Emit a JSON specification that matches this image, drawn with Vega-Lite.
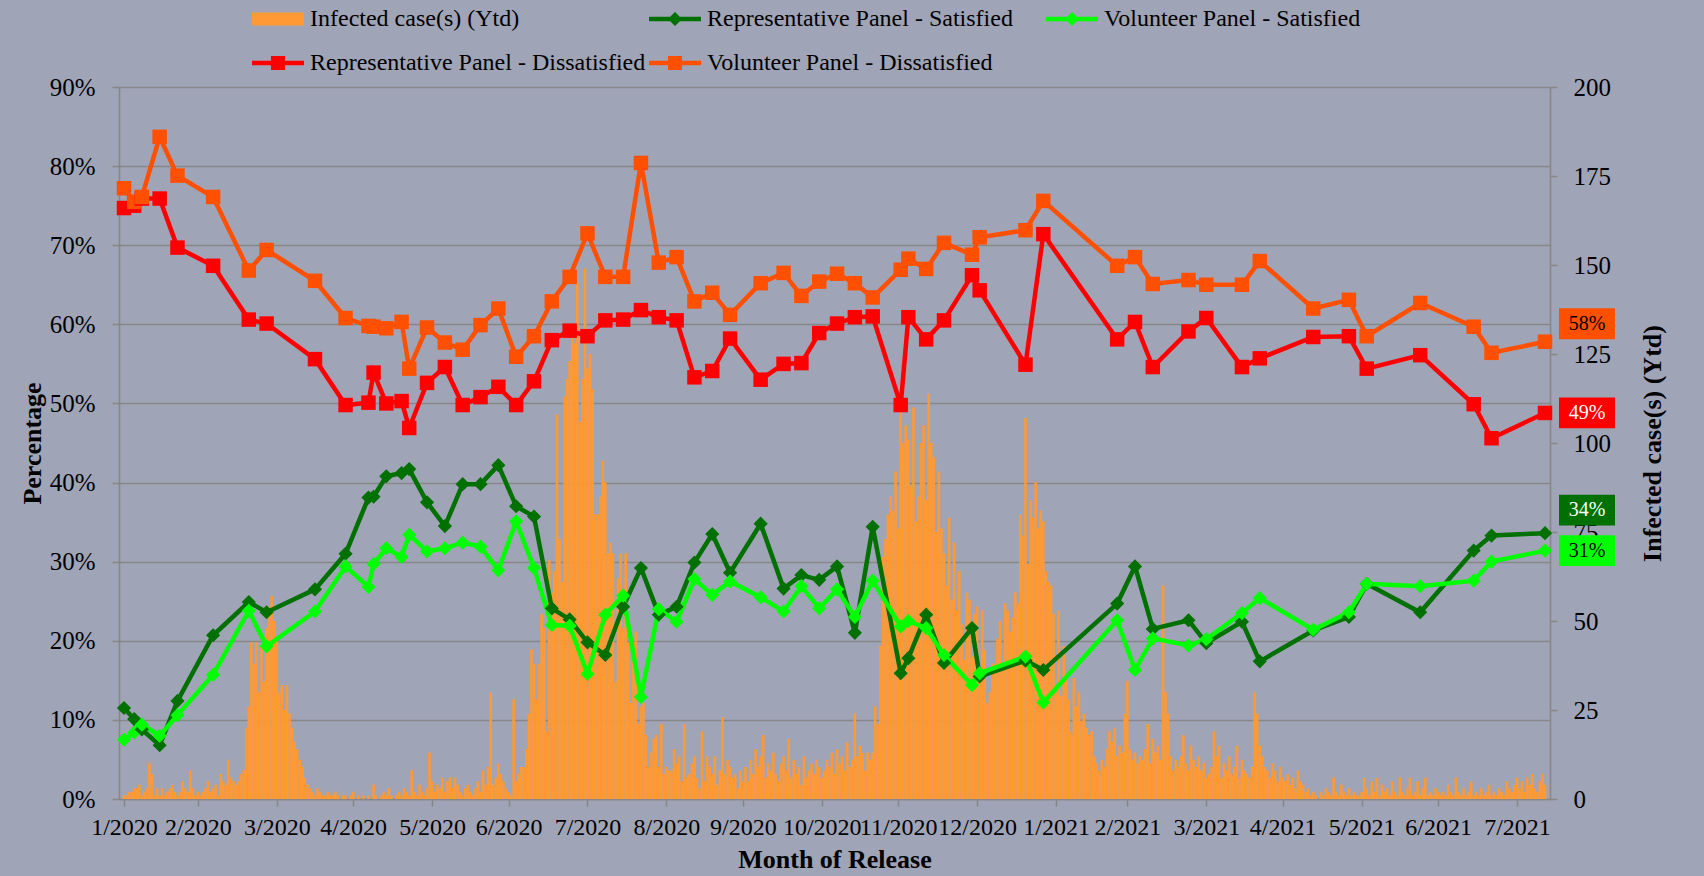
{
"$schema":"https://vega.github.io/schema/vega-lite/v6.json",
"width":1431,"height":712,
"autosize":{"type":"none"},
"padding":{"left":119,"top":87,"right":154,"bottom":77},
"background":"#A0A4B7",
"config":{"view":{"stroke":null},"font":"Liberation Serif",
"axis":{"labelFont":"Liberation Serif","titleFont":"Liberation Serif","labelColor":"black","titleColor":"black","domainColor":"#878787","tickColor":"#878787","gridColor":"#878787","domainWidth":1.6,"tickWidth":1.6,"gridWidth":1.6,"tickSize":7,"titleFontWeight":"bold","titleFontSize":26,"labelFontSize":25}},
"datasets":{
"survey":[
{"t":"2020-01-31","RS":0.115,"VS":0.075,"RD":0.747,"VD":0.772},
{"t":"2020-02-04","RS":0.101,"VS":0.084,"RD":0.750,"VD":0.755},
{"t":"2020-02-07","RS":0.088,"VS":0.094,"RD":0.759,"VD":0.761},
{"t":"2020-02-14","RS":0.068,"VS":0.080,"RD":0.759,"VD":0.837},
{"t":"2020-02-21","RS":0.124,"VS":0.106,"RD":0.697,"VD":0.788},
{"t":"2020-03-06","RS":0.207,"VS":0.157,"RD":0.674,"VD":0.761},
{"t":"2020-03-20","RS":0.249,"VS":0.238,"RD":0.606,"VD":0.668},
{"t":"2020-03-27","RS":0.236,"VS":0.193,"RD":0.601,"VD":0.694},
{"t":"2020-04-15","RS":0.265,"VS":0.237,"RD":0.556,"VD":0.655},
{"t":"2020-04-27","RS":0.310,"VS":0.294,"RD":0.498,"VD":0.608},
{"t":"2020-05-06","RS":0.381,"VS":0.268,"RD":0.501,"VD":0.598},
{"t":"2020-05-08","RS":0.382,"VS":0.297,"RD":0.539,"VD":0.597},
{"t":"2020-05-13","RS":0.408,"VS":0.317,"RD":0.500,"VD":0.595},
{"t":"2020-05-19","RS":0.412,"VS":0.306,"RD":0.503,"VD":0.603},
{"t":"2020-05-22","RS":0.417,"VS":0.334,"RD":0.469,"VD":0.544},
{"t":"2020-05-29","RS":0.375,"VS":0.313,"RD":0.526,"VD":0.596},
{"t":"2020-06-05","RS":0.345,"VS":0.317,"RD":0.546,"VD":0.577},
{"t":"2020-06-12","RS":0.398,"VS":0.324,"RD":0.498,"VD":0.568},
{"t":"2020-06-19","RS":0.398,"VS":0.319,"RD":0.508,"VD":0.599},
{"t":"2020-06-26","RS":0.422,"VS":0.289,"RD":0.521,"VD":0.620},
{"t":"2020-07-03","RS":0.370,"VS":0.351,"RD":0.498,"VD":0.559},
{"t":"2020-07-10","RS":0.357,"VS":0.292,"RD":0.528,"VD":0.585},
{"t":"2020-07-17","RS":0.241,"VS":0.220,"RD":0.580,"VD":0.629},
{"t":"2020-07-24","RS":0.227,"VS":0.219,"RD":0.592,"VD":0.660},
{"t":"2020-07-31","RS":0.198,"VS":0.158,"RD":0.585,"VD":0.715},
{"t":"2020-08-07","RS":0.182,"VS":0.233,"RD":0.605,"VD":0.660},
{"t":"2020-08-14","RS":0.243,"VS":0.257,"RD":0.606,"VD":0.660},
{"t":"2020-08-21","RS":0.292,"VS":0.129,"RD":0.618,"VD":0.804},
{"t":"2020-08-28","RS":0.233,"VS":0.240,"RD":0.609,"VD":0.678},
{"t":"2020-09-04","RS":0.243,"VS":0.224,"RD":0.605,"VD":0.685},
{"t":"2020-09-11","RS":0.299,"VS":0.278,"RD":0.533,"VD":0.629},
{"t":"2020-09-18","RS":0.335,"VS":0.258,"RD":0.541,"VD":0.640},
{"t":"2020-09-25","RS":0.286,"VS":0.275,"RD":0.582,"VD":0.612},
{"t":"2020-10-07","RS":0.348,"VS":0.255,"RD":0.530,"VD":0.652},
{"t":"2020-10-16","RS":0.266,"VS":0.237,"RD":0.550,"VD":0.665},
{"t":"2020-10-23","RS":0.283,"VS":0.269,"RD":0.551,"VD":0.636},
{"t":"2020-10-30","RS":0.277,"VS":0.241,"RD":0.589,"VD":0.654},
{"t":"2020-11-06","RS":0.294,"VS":0.265,"RD":0.601,"VD":0.664},
{"t":"2020-11-13","RS":0.210,"VS":0.230,"RD":0.609,"VD":0.652},
{"t":"2020-11-20","RS":0.344,"VS":0.276,"RD":0.610,"VD":0.634},
{"t":"2020-12-01","RS":0.159,"VS":0.218,"RD":0.498,"VD":0.669},
{"t":"2020-12-04","RS":0.178,"VS":0.225,"RD":0.609,"VD":0.683},
{"t":"2020-12-11","RS":0.233,"VS":0.216,"RD":0.581,"VD":0.670},
{"t":"2020-12-18","RS":0.172,"VS":0.182,"RD":0.605,"VD":0.703},
{"t":"2020-12-29","RS":0.216,"VS":0.144,"RD":0.662,"VD":0.688},
{"t":"2021-01-01","RS":0.155,"VS":0.159,"RD":0.643,"VD":0.710},
{"t":"2021-01-19","RS":0.175,"VS":0.180,"RD":0.549,"VD":0.719},
{"t":"2021-01-26","RS":0.163,"VS":0.122,"RD":0.714,"VD":0.756},
{"t":"2021-02-24","RS":0.247,"VS":0.226,"RD":0.581,"VD":0.674},
{"t":"2021-03-03","RS":0.294,"VS":0.163,"RD":0.603,"VD":0.685},
{"t":"2021-03-10","RS":0.215,"VS":0.203,"RD":0.546,"VD":0.651},
{"t":"2021-03-24","RS":0.226,"VS":0.194,"RD":0.591,"VD":0.656},
{"t":"2021-03-31","RS":0.197,"VS":0.202,"RD":0.608,"VD":0.650},
{"t":"2021-04-14","RS":0.224,"VS":0.235,"RD":0.546,"VD":0.650},
{"t":"2021-04-21","RS":0.174,"VS":0.254,"RD":0.557,"VD":0.680},
{"t":"2021-05-12","RS":0.213,"VS":0.214,"RD":0.584,"VD":0.620},
{"t":"2021-05-26","RS":0.230,"VS":0.236,"RD":0.585,"VD":0.631},
{"t":"2021-06-02","RS":0.272,"VS":0.272,"RD":0.544,"VD":0.585},
{"t":"2021-06-23","RS":0.236,"VS":0.269,"RD":0.561,"VD":0.627},
{"t":"2021-07-14","RS":0.314,"VS":0.276,"RD":0.499,"VD":0.597},
{"t":"2021-07-21","RS":0.333,"VS":0.300,"RD":0.456,"VD":0.564},
{"t":"2021-08-11","RS":0.336,"VS":0.314,"RD":0.488,"VD":0.578}
],
"cases":[
{"t":"2020-01-31","v":1},
{"t":"2020-02-01","v":1},{"t":"2020-02-02","v":2},{"t":"2020-02-03","v":2},{"t":"2020-02-04","v":3},{"t":"2020-02-05","v":3},{"t":"2020-02-06","v":4},{"t":"2020-02-07","v":1},{"t":"2020-02-08","v":2},{"t":"2020-02-09","v":3},{"t":"2020-02-10","v":10},{"t":"2020-02-11","v":7},{"t":"2020-02-12","v":1},{"t":"2020-02-13","v":3},{"t":"2020-02-14","v":1},{"t":"2020-02-15","v":3},{"t":"2020-02-16","v":1},{"t":"2020-02-17","v":2},{"t":"2020-02-18","v":3},{"t":"2020-02-19","v":4},{"t":"2020-02-20","v":2},{"t":"2020-02-21","v":1},{"t":"2020-02-22","v":2},{"t":"2020-02-23","v":5},{"t":"2020-02-24","v":3},{"t":"2020-02-25","v":2},{"t":"2020-02-26","v":8},{"t":"2020-02-27","v":3},{"t":"2020-02-28","v":1},{"t":"2020-02-29","v":2},
{"t":"2020-03-01","v":1},{"t":"2020-03-02","v":2},{"t":"2020-03-03","v":3},{"t":"2020-03-04","v":5},{"t":"2020-03-05","v":2},{"t":"2020-03-06","v":3},{"t":"2020-03-07","v":4},{"t":"2020-03-08","v":1},{"t":"2020-03-09","v":7},{"t":"2020-03-10","v":5},{"t":"2020-03-11","v":4},{"t":"2020-03-12","v":11},{"t":"2020-03-13","v":6},{"t":"2020-03-14","v":5},{"t":"2020-03-15","v":4},{"t":"2020-03-16","v":5},{"t":"2020-03-17","v":7},{"t":"2020-03-18","v":8},{"t":"2020-03-19","v":20},{"t":"2020-03-20","v":26},{"t":"2020-03-21","v":44},{"t":"2020-03-22","v":38},{"t":"2020-03-23","v":44},{"t":"2020-03-24","v":30},{"t":"2020-03-25","v":43},{"t":"2020-03-26","v":33},{"t":"2020-03-27","v":48},{"t":"2020-03-28","v":54},{"t":"2020-03-29","v":57},{"t":"2020-03-30","v":50},{"t":"2020-03-31","v":45},
{"t":"2020-04-01","v":30},{"t":"2020-04-02","v":32},{"t":"2020-04-03","v":25},{"t":"2020-04-04","v":32},{"t":"2020-04-05","v":24},{"t":"2020-04-06","v":20},{"t":"2020-04-07","v":16},{"t":"2020-04-08","v":14},{"t":"2020-04-09","v":11},{"t":"2020-04-10","v":9},{"t":"2020-04-11","v":6},{"t":"2020-04-12","v":4},{"t":"2020-04-13","v":3},{"t":"2020-04-14","v":2},{"t":"2020-04-15","v":1},{"t":"2020-04-16","v":3},{"t":"2020-04-17","v":2},{"t":"2020-04-18","v":1},{"t":"2020-04-19","v":1},{"t":"2020-04-20","v":2},{"t":"2020-04-21","v":1},{"t":"2020-04-22","v":1},{"t":"2020-04-23","v":2},{"t":"2020-04-24","v":1},{"t":"2020-04-26","v":1},{"t":"2020-04-27","v":1},{"t":"2020-04-29","v":1},{"t":"2020-04-30","v":2},
{"t":"2020-05-02","v":1},{"t":"2020-05-04","v":1},{"t":"2020-05-06","v":1},{"t":"2020-05-08","v":4},{"t":"2020-05-09","v":1},{"t":"2020-05-11","v":1},{"t":"2020-05-12","v":2},{"t":"2020-05-13","v":1},{"t":"2020-05-14","v":3},{"t":"2020-05-15","v":1},{"t":"2020-05-17","v":1},{"t":"2020-05-18","v":2},{"t":"2020-05-19","v":1},{"t":"2020-05-20","v":3},{"t":"2020-05-21","v":2},{"t":"2020-05-22","v":1},{"t":"2020-05-23","v":8},{"t":"2020-05-24","v":2},{"t":"2020-05-25","v":1},{"t":"2020-05-26","v":4},{"t":"2020-05-27","v":2},{"t":"2020-05-28","v":1},{"t":"2020-05-29","v":3},{"t":"2020-05-30","v":13},{"t":"2020-05-31","v":5},
{"t":"2020-06-01","v":2},{"t":"2020-06-02","v":4},{"t":"2020-06-03","v":3},{"t":"2020-06-04","v":6},{"t":"2020-06-05","v":2},{"t":"2020-06-06","v":5},{"t":"2020-06-07","v":6},{"t":"2020-06-08","v":3},{"t":"2020-06-09","v":6},{"t":"2020-06-10","v":4},{"t":"2020-06-11","v":2},{"t":"2020-06-12","v":1},{"t":"2020-06-13","v":3},{"t":"2020-06-14","v":4},{"t":"2020-06-15","v":2},{"t":"2020-06-16","v":1},{"t":"2020-06-17","v":3},{"t":"2020-06-18","v":5},{"t":"2020-06-19","v":2},{"t":"2020-06-20","v":8},{"t":"2020-06-21","v":4},{"t":"2020-06-22","v":9},{"t":"2020-06-23","v":30},{"t":"2020-06-24","v":4},{"t":"2020-06-25","v":6},{"t":"2020-06-26","v":10},{"t":"2020-06-27","v":7},{"t":"2020-06-28","v":5},{"t":"2020-06-29","v":3},{"t":"2020-06-30","v":2},
{"t":"2020-07-01","v":1},{"t":"2020-07-02","v":28},{"t":"2020-07-03","v":5},{"t":"2020-07-04","v":7},{"t":"2020-07-05","v":9},{"t":"2020-07-06","v":9},{"t":"2020-07-07","v":14},{"t":"2020-07-08","v":24},{"t":"2020-07-09","v":42},{"t":"2020-07-10","v":38},{"t":"2020-07-11","v":28},{"t":"2020-07-12","v":38},{"t":"2020-07-13","v":52},{"t":"2020-07-14","v":48},{"t":"2020-07-15","v":19},{"t":"2020-07-16","v":67},{"t":"2020-07-17","v":58},{"t":"2020-07-18","v":64},{"t":"2020-07-19","v":108},{"t":"2020-07-20","v":73},{"t":"2020-07-21","v":61},{"t":"2020-07-22","v":113},{"t":"2020-07-23","v":118},{"t":"2020-07-24","v":123},{"t":"2020-07-25","v":133},{"t":"2020-07-26","v":128},{"t":"2020-07-27","v":145},{"t":"2020-07-28","v":106},{"t":"2020-07-29","v":118},{"t":"2020-07-30","v":149},{"t":"2020-07-31","v":121},
{"t":"2020-08-01","v":125},{"t":"2020-08-02","v":115},{"t":"2020-08-03","v":80},{"t":"2020-08-04","v":80},{"t":"2020-08-05","v":85},{"t":"2020-08-06","v":95},{"t":"2020-08-07","v":89},{"t":"2020-08-08","v":69},{"t":"2020-08-09","v":72},{"t":"2020-08-10","v":69},{"t":"2020-08-11","v":33},{"t":"2020-08-12","v":62},{"t":"2020-08-13","v":69},{"t":"2020-08-14","v":48},{"t":"2020-08-15","v":69},{"t":"2020-08-16","v":44},{"t":"2020-08-17","v":27},{"t":"2020-08-18","v":44},{"t":"2020-08-19","v":47},{"t":"2020-08-20","v":21},{"t":"2020-08-21","v":26},{"t":"2020-08-22","v":27},{"t":"2020-08-23","v":18},{"t":"2020-08-24","v":9},{"t":"2020-08-25","v":13},{"t":"2020-08-26","v":17},{"t":"2020-08-27","v":18},{"t":"2020-08-28","v":9},{"t":"2020-08-29","v":21},{"t":"2020-08-30","v":7},{"t":"2020-08-31","v":9},
{"t":"2020-09-01","v":8},{"t":"2020-09-02","v":8},{"t":"2020-09-03","v":14},{"t":"2020-09-04","v":10},{"t":"2020-09-05","v":12},{"t":"2020-09-06","v":5},{"t":"2020-09-07","v":21},{"t":"2020-09-08","v":6},{"t":"2020-09-09","v":7},{"t":"2020-09-10","v":10},{"t":"2020-09-11","v":12},{"t":"2020-09-12","v":6},{"t":"2020-09-13","v":3},{"t":"2020-09-14","v":19},{"t":"2020-09-15","v":5},{"t":"2020-09-16","v":12},{"t":"2020-09-17","v":9},{"t":"2020-09-18","v":7},{"t":"2020-09-19","v":12},{"t":"2020-09-20","v":4},{"t":"2020-09-21","v":8},{"t":"2020-09-22","v":23},{"t":"2020-09-23","v":7},{"t":"2020-09-24","v":11},{"t":"2020-09-25","v":9},{"t":"2020-09-26","v":6},{"t":"2020-09-27","v":7},{"t":"2020-09-28","v":3},{"t":"2020-09-29","v":8},{"t":"2020-09-30","v":5},
{"t":"2020-10-01","v":9},{"t":"2020-10-02","v":5},{"t":"2020-10-03","v":11},{"t":"2020-10-04","v":7},{"t":"2020-10-05","v":14},{"t":"2020-10-06","v":9},{"t":"2020-10-07","v":12},{"t":"2020-10-08","v":18},{"t":"2020-10-09","v":6},{"t":"2020-10-10","v":10},{"t":"2020-10-11","v":8},{"t":"2020-10-12","v":13},{"t":"2020-10-13","v":7},{"t":"2020-10-14","v":5},{"t":"2020-10-15","v":10},{"t":"2020-10-16","v":12},{"t":"2020-10-17","v":8},{"t":"2020-10-18","v":17},{"t":"2020-10-19","v":6},{"t":"2020-10-20","v":11},{"t":"2020-10-21","v":7},{"t":"2020-10-22","v":9},{"t":"2020-10-23","v":4},{"t":"2020-10-24","v":12},{"t":"2020-10-25","v":6},{"t":"2020-10-26","v":8},{"t":"2020-10-27","v":10},{"t":"2020-10-28","v":7},{"t":"2020-10-29","v":11},{"t":"2020-10-30","v":9},{"t":"2020-10-31","v":6},
{"t":"2020-11-01","v":8},{"t":"2020-11-02","v":11},{"t":"2020-11-03","v":9},{"t":"2020-11-04","v":13},{"t":"2020-11-05","v":7},{"t":"2020-11-06","v":14},{"t":"2020-11-07","v":10},{"t":"2020-11-08","v":12},{"t":"2020-11-09","v":8},{"t":"2020-11-10","v":16},{"t":"2020-11-11","v":9},{"t":"2020-11-12","v":11},{"t":"2020-11-13","v":24},{"t":"2020-11-14","v":12},{"t":"2020-11-15","v":15},{"t":"2020-11-16","v":13},{"t":"2020-11-17","v":8},{"t":"2020-11-18","v":13},{"t":"2020-11-19","v":11},{"t":"2020-11-20","v":13},{"t":"2020-11-21","v":26},{"t":"2020-11-22","v":21},{"t":"2020-11-23","v":43},{"t":"2020-11-24","v":68},{"t":"2020-11-25","v":73},{"t":"2020-11-26","v":80},{"t":"2020-11-27","v":85},{"t":"2020-11-28","v":81},{"t":"2020-11-29","v":92},{"t":"2020-11-30","v":76},
{"t":"2020-12-01","v":112},{"t":"2020-12-02","v":100},{"t":"2020-12-03","v":105},{"t":"2020-12-04","v":101},{"t":"2020-12-05","v":88},{"t":"2020-12-06","v":110},{"t":"2020-12-07","v":78},{"t":"2020-12-08","v":85},{"t":"2020-12-09","v":100},{"t":"2020-12-10","v":105},{"t":"2020-12-11","v":84},{"t":"2020-12-12","v":114},{"t":"2020-12-13","v":100},{"t":"2020-12-14","v":96},{"t":"2020-12-15","v":75},{"t":"2020-12-16","v":92},{"t":"2020-12-17","v":76},{"t":"2020-12-18","v":69},{"t":"2020-12-19","v":60},{"t":"2020-12-20","v":79},{"t":"2020-12-21","v":56},{"t":"2020-12-22","v":72},{"t":"2020-12-23","v":53},{"t":"2020-12-24","v":64},{"t":"2020-12-25","v":49},{"t":"2020-12-26","v":39},{"t":"2020-12-27","v":58},{"t":"2020-12-28","v":56},{"t":"2020-12-29","v":40},{"t":"2020-12-30","v":52},{"t":"2020-12-31","v":54},
{"t":"2021-01-01","v":33},{"t":"2021-01-02","v":53},{"t":"2021-01-03","v":42},{"t":"2021-01-04","v":27},{"t":"2021-01-05","v":30},{"t":"2021-01-06","v":38},{"t":"2021-01-07","v":38},{"t":"2021-01-08","v":45},{"t":"2021-01-09","v":50},{"t":"2021-01-10","v":36},{"t":"2021-01-11","v":55},{"t":"2021-01-12","v":53},{"t":"2021-01-13","v":47},{"t":"2021-01-14","v":51},{"t":"2021-01-15","v":58},{"t":"2021-01-16","v":55},{"t":"2021-01-17","v":80},{"t":"2021-01-18","v":74},{"t":"2021-01-19","v":107},{"t":"2021-01-20","v":66},{"t":"2021-01-21","v":84},{"t":"2021-01-22","v":79},{"t":"2021-01-23","v":89},{"t":"2021-01-24","v":76},{"t":"2021-01-25","v":81},{"t":"2021-01-26","v":78},{"t":"2021-01-27","v":64},{"t":"2021-01-28","v":61},{"t":"2021-01-29","v":60},{"t":"2021-01-30","v":52},{"t":"2021-01-31","v":30},
{"t":"2021-02-01","v":53},{"t":"2021-02-02","v":29},{"t":"2021-02-03","v":43},{"t":"2021-02-04","v":35},{"t":"2021-02-05","v":28},{"t":"2021-02-06","v":19},{"t":"2021-02-07","v":34},{"t":"2021-02-08","v":26},{"t":"2021-02-09","v":30},{"t":"2021-02-10","v":22},{"t":"2021-02-11","v":24},{"t":"2021-02-12","v":20},{"t":"2021-02-13","v":18},{"t":"2021-02-14","v":19},{"t":"2021-02-15","v":12},{"t":"2021-02-16","v":10},{"t":"2021-02-17","v":8},{"t":"2021-02-18","v":11},{"t":"2021-02-19","v":9},{"t":"2021-02-20","v":14},{"t":"2021-02-21","v":19},{"t":"2021-02-22","v":16},{"t":"2021-02-23","v":20},{"t":"2021-02-24","v":12},{"t":"2021-02-25","v":15},{"t":"2021-02-26","v":13},{"t":"2021-02-27","v":24},{"t":"2021-02-28","v":33},
{"t":"2021-03-01","v":14},{"t":"2021-03-02","v":11},{"t":"2021-03-03","v":13},{"t":"2021-03-04","v":10},{"t":"2021-03-05","v":12},{"t":"2021-03-06","v":11},{"t":"2021-03-07","v":14},{"t":"2021-03-08","v":21},{"t":"2021-03-09","v":10},{"t":"2021-03-10","v":17},{"t":"2021-03-11","v":13},{"t":"2021-03-12","v":15},{"t":"2021-03-13","v":11},{"t":"2021-03-14","v":60},{"t":"2021-03-15","v":30},{"t":"2021-03-16","v":24},{"t":"2021-03-17","v":12},{"t":"2021-03-18","v":8},{"t":"2021-03-19","v":11},{"t":"2021-03-20","v":9},{"t":"2021-03-21","v":12},{"t":"2021-03-22","v":18},{"t":"2021-03-23","v":10},{"t":"2021-03-24","v":8},{"t":"2021-03-25","v":15},{"t":"2021-03-26","v":11},{"t":"2021-03-27","v":9},{"t":"2021-03-28","v":12},{"t":"2021-03-29","v":8},{"t":"2021-03-30","v":10},{"t":"2021-03-31","v":6},
{"t":"2021-04-01","v":7},{"t":"2021-04-02","v":9},{"t":"2021-04-03","v":19},{"t":"2021-04-04","v":12},{"t":"2021-04-05","v":15},{"t":"2021-04-06","v":6},{"t":"2021-04-07","v":10},{"t":"2021-04-08","v":8},{"t":"2021-04-09","v":12},{"t":"2021-04-10","v":7},{"t":"2021-04-11","v":9},{"t":"2021-04-12","v":15},{"t":"2021-04-13","v":6},{"t":"2021-04-14","v":11},{"t":"2021-04-15","v":8},{"t":"2021-04-16","v":7},{"t":"2021-04-17","v":6},{"t":"2021-04-18","v":9},{"t":"2021-04-19","v":30},{"t":"2021-04-20","v":24},{"t":"2021-04-21","v":15},{"t":"2021-04-22","v":12},{"t":"2021-04-23","v":9},{"t":"2021-04-24","v":8},{"t":"2021-04-25","v":6},{"t":"2021-04-26","v":10},{"t":"2021-04-27","v":8},{"t":"2021-04-28","v":5},{"t":"2021-04-29","v":9},{"t":"2021-04-30","v":6},
{"t":"2021-05-01","v":5},{"t":"2021-05-02","v":7},{"t":"2021-05-03","v":4},{"t":"2021-05-04","v":6},{"t":"2021-05-05","v":3},{"t":"2021-05-06","v":8},{"t":"2021-05-07","v":5},{"t":"2021-05-08","v":4},{"t":"2021-05-09","v":2},{"t":"2021-05-10","v":3},{"t":"2021-05-11","v":1},{"t":"2021-05-12","v":2},{"t":"2021-05-13","v":1},{"t":"2021-05-15","v":2},{"t":"2021-05-16","v":1},{"t":"2021-05-17","v":3},{"t":"2021-05-18","v":2},{"t":"2021-05-19","v":1},{"t":"2021-05-20","v":6},{"t":"2021-05-21","v":2},{"t":"2021-05-22","v":1},{"t":"2021-05-23","v":4},{"t":"2021-05-24","v":2},{"t":"2021-05-25","v":1},{"t":"2021-05-26","v":3},{"t":"2021-05-27","v":1},{"t":"2021-05-28","v":2},{"t":"2021-05-29","v":1},{"t":"2021-05-30","v":1},{"t":"2021-05-31","v":2},
{"t":"2021-06-01","v":6},{"t":"2021-06-02","v":3},{"t":"2021-06-03","v":1},{"t":"2021-06-04","v":5},{"t":"2021-06-05","v":2},{"t":"2021-06-06","v":6},{"t":"2021-06-07","v":1},{"t":"2021-06-08","v":4},{"t":"2021-06-09","v":2},{"t":"2021-06-10","v":3},{"t":"2021-06-11","v":1},{"t":"2021-06-12","v":5},{"t":"2021-06-13","v":2},{"t":"2021-06-14","v":1},{"t":"2021-06-15","v":6},{"t":"2021-06-16","v":2},{"t":"2021-06-17","v":1},{"t":"2021-06-18","v":3},{"t":"2021-06-19","v":6},{"t":"2021-06-20","v":1},{"t":"2021-06-21","v":2},{"t":"2021-06-22","v":5},{"t":"2021-06-23","v":1},{"t":"2021-06-24","v":3},{"t":"2021-06-25","v":6},{"t":"2021-06-26","v":1},{"t":"2021-06-27","v":2},{"t":"2021-06-28","v":1},{"t":"2021-06-29","v":3},{"t":"2021-06-30","v":2},
{"t":"2021-07-01","v":1},{"t":"2021-07-02","v":2},{"t":"2021-07-03","v":1},{"t":"2021-07-04","v":4},{"t":"2021-07-05","v":2},{"t":"2021-07-06","v":1},{"t":"2021-07-07","v":6},{"t":"2021-07-08","v":2},{"t":"2021-07-09","v":1},{"t":"2021-07-10","v":3},{"t":"2021-07-11","v":1},{"t":"2021-07-12","v":2},{"t":"2021-07-13","v":5},{"t":"2021-07-14","v":1},{"t":"2021-07-15","v":2},{"t":"2021-07-16","v":1},{"t":"2021-07-17","v":3},{"t":"2021-07-18","v":1},{"t":"2021-07-19","v":2},{"t":"2021-07-20","v":4},{"t":"2021-07-21","v":1},{"t":"2021-07-22","v":2},{"t":"2021-07-23","v":1},{"t":"2021-07-24","v":3},{"t":"2021-07-25","v":2},{"t":"2021-07-26","v":1},{"t":"2021-07-27","v":5},{"t":"2021-07-28","v":3},{"t":"2021-07-29","v":2},{"t":"2021-07-30","v":4},{"t":"2021-07-31","v":6},
{"t":"2021-08-01","v":3},{"t":"2021-08-02","v":5},{"t":"2021-08-03","v":2},{"t":"2021-08-04","v":6},{"t":"2021-08-05","v":4},{"t":"2021-08-06","v":7},{"t":"2021-08-07","v":3},{"t":"2021-08-08","v":2},{"t":"2021-08-09","v":5},{"t":"2021-08-10","v":7},{"t":"2021-08-11","v":4}
]},
"layer":[
{"data":{"name":"cases"},
 "mark":{"type":"bar","color":"#FF9933","size":2.6},
 "encoding":{
  "x":{"field":"t","type":"temporal","scale":{"type":"utc","nice":false,"domain":[{"year":2020,"month":1,"date":31,"utc":true},{"year":2021,"month":8,"date":11,"utc":true}]}},
  "y":{"field":"v","type":"quantitative","scale":{"domain":[0,200],"nice":false},
   "axis":{"orient":"right","values":[0,25,50,75,100,125,150,175,200],"grid":false,"title":"Infected case(s) (Ytd)","titleAngle":270,"labelPadding":16,"titlePadding":55}}}},
{"data":{"name":"survey"},
 "transform":[{"fold":["RS","VS","RD","VD"],"as":["s","p"]}],
 "encoding":{
  "x":{"field":"t","type":"temporal","scale":{"type":"utc","nice":false,"domain":[{"year":2020,"month":1,"date":31,"utc":true},{"year":2021,"month":8,"date":11,"utc":true}]},
   "axis":{"orient":"bottom","grid":false,"title":"Month of Release","labelFontSize":24,"labelPadding":9,"titlePadding":7,"labelOverlap":false,"labelFlush":false,
    "values":[{"year":2020,"month":1,"date":31,"utc":true},{"year":2020,"month":2,"date":29,"utc":true},{"year":2020,"month":3,"date":31,"utc":true},{"year":2020,"month":4,"date":30,"utc":true},{"year":2020,"month":5,"date":31,"utc":true},{"year":2020,"month":6,"date":30,"utc":true},{"year":2020,"month":7,"date":31,"utc":true},{"year":2020,"month":8,"date":31,"utc":true},{"year":2020,"month":9,"date":30,"utc":true},{"year":2020,"month":10,"date":31,"utc":true},{"year":2020,"month":11,"date":30,"utc":true},{"year":2020,"month":12,"date":31,"utc":true},{"year":2021,"month":1,"date":31,"utc":true},{"year":2021,"month":2,"date":28,"utc":true},{"year":2021,"month":3,"date":31,"utc":true},{"year":2021,"month":4,"date":30,"utc":true},{"year":2021,"month":5,"date":31,"utc":true},{"year":2021,"month":6,"date":30,"utc":true},{"year":2021,"month":7,"date":31,"utc":true}],
    "labelExpr":"utcFormat(datum.value, '%-m/%Y')"}},
  "y":{"field":"p","type":"quantitative","scale":{"domain":[0,0.9],"nice":false},
   "axis":{"orient":"left","values":[0,0.1,0.2,0.3,0.4,0.5,0.6,0.7,0.8,0.9],"format":".0%","grid":true,"title":"Percentage","labelPadding":17,"titlePadding":4}}},
 "layer":[
  {"mark":{"type":"line","strokeWidth":4.5},
   "encoding":{"stroke":{"field":"s","type":"nominal","scale":{"domain":["RS","VS","RD","VD"],"range":["#007000","#00FF00","#FF0000","#FF4F00"]},"legend":null}}},
  {"mark":{"type":"point","filled":true,"opacity":1,"strokeWidth":0},
   "encoding":{
    "shape":{"field":"s","type":"nominal","scale":{"domain":["RS","VS","RD","VD"],"range":["diamond","diamond","square","square"]},"legend":null},
    "size":{"condition":{"test":"datum.s=='RD'||datum.s=='VD'","value":210},"value":200},
    "color":{"field":"s","type":"nominal","scale":{"domain":["INF","RS","VS","RD","VD"],"range":["#FF9933","#007000","#00FF00","#FF0000","#FF4F00"]},
     "legend":{"orient":"none","legendX":146,"legendY":-81,"direction":"horizontal","columns":3,"gridAlign":"all","columnPadding":3,"rowPadding":19,"symbolSize":676,"symbolStrokeWidth":0,"symbolOpacity":1,"labelFont":"Liberation Serif","labelFontSize":24,"labelColor":"black","labelOffset":19,"labelLimit":500,"title":null,"padding":0,
      "labelExpr":"datum.label=='INF' ? 'Infected case(s) (Ytd)' : datum.label=='RS' ? 'Representative Panel - Satisfied' : datum.label=='VS' ? 'Volunteer Panel - Satisfied' : datum.label=='RD' ? 'Representative Panel - Dissatisfied' : 'Volunteer Panel - Dissatisfied'",
      "encode":{"symbols":{"update":{"shape":{"signal":"datum.value=='INF' ? 'M-2,-0.5H2V0.5H-2Z' : (datum.value=='RD'||datum.value=='VD') ? 'M-2,-0.173H-0.54V-0.54H0.54V-0.173H2V0.173H0.54V0.54H-0.54V0.173H-2Z' : 'M-2,-0.173H-0.367L0,-0.54L0.367,-0.173H2V0.173H0.367L0,0.54L-0.367,0.173H-2Z'"}}}}}}}},
  {"transform":[{"filter":{"field":"t","equal":{"year":2021,"month":8,"date":11,"utc":true}}},{"filter":{"field":"s","oneOf":["RD","VS"]}}],
   "layer":[
    {"mark":{"type":"point","shape":"M-1,-0.55H1V0.55H-1Z","filled":true,"opacity":1,"strokeWidth":0,"size":3136,"xOffset":42},
     "encoding":{"color":{"field":"s","type":"nominal"}}},
    {"mark":{"type":"text","xOffset":42,"fontSize":20,"font":"Liberation Serif","align":"center","baseline":"middle"},
     "encoding":{"text":{"field":"p","type":"quantitative","format":".0%"},"color":{"condition":{"test":"datum.s=='RD'||datum.s=='RS'","value":"white"},"value":"black"}}}]},
  {"transform":[{"filter":{"field":"t","equal":{"year":2021,"month":8,"date":11,"utc":true}}},{"filter":{"field":"s","equal":"VD"}}],
   "layer":[
    {"mark":{"type":"point","shape":"M-1,-0.55H1V0.55H-1Z","filled":true,"opacity":1,"strokeWidth":0,"size":3136,"xOffset":42,"yOffset":-18},
     "encoding":{"color":{"field":"s","type":"nominal"}}},
    {"mark":{"type":"text","xOffset":42,"yOffset":-18,"fontSize":20,"font":"Liberation Serif","align":"center","baseline":"middle","color":"black"},
     "encoding":{"text":{"field":"p","type":"quantitative","format":".0%"}}}]},
  {"transform":[{"filter":{"field":"t","equal":{"year":2021,"month":8,"date":11,"utc":true}}},{"filter":{"field":"s","equal":"RS"}}],
   "layer":[
    {"mark":{"type":"point","shape":"M-1,-0.55H1V0.55H-1Z","filled":true,"opacity":1,"strokeWidth":0,"size":3136,"xOffset":42,"yOffset":-23},
     "encoding":{"color":{"field":"s","type":"nominal"}}},
    {"mark":{"type":"text","xOffset":42,"yOffset":-23,"fontSize":20,"font":"Liberation Serif","align":"center","baseline":"middle","color":"white"},
     "encoding":{"text":{"field":"p","type":"quantitative","format":".0%"}}}]}
 ]}
],
"resolve":{"scale":{"y":"independent"}}
}
